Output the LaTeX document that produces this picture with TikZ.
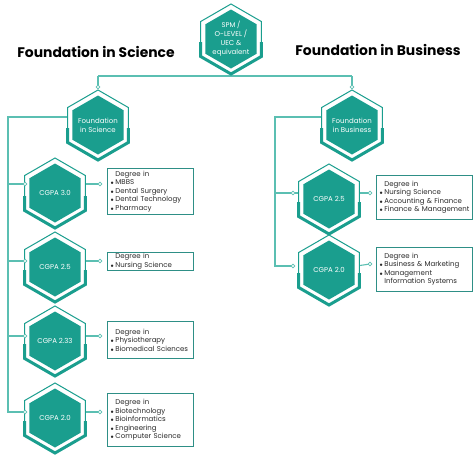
\documentclass[tikz,border=0pt]{standalone}
\usepackage{fontspec}
\setmainfont{Poppins}
\usetikzlibrary{backgrounds}
\definecolor{teal1}{HTML}{1A9E8E}
\definecolor{linec}{HTML}{5BBFB2}
\definecolor{boxc}{HTML}{2E8F86}
\definecolor{txt}{HTML}{2A2A2A}
\tikzset{
 conn/.style={draw=linec, line width=1.1pt},
 dotc/.style={circle, draw=linec, fill=white, line width=0.7pt, inner sep=0pt, minimum size=3.6pt},
 hexline/.style={draw=teal1, fill=white, line width=1pt, line join=miter},
 hexthick/.style={draw=teal1, line width=3pt, line join=miter},
 hextext/.style={circle, inner sep=0pt, minimum size=58pt, text=white, align=center, font=\fontsize{7}{9}\selectfont},
 infobox/.style={draw=boxc, line width=0.9pt, anchor=north west, inner xsep=3pt, inner ysep=1pt, align=left, font=\fontsize{7}{8.5}\selectfont, text=txt},
 titletext/.style={font=\fontsize{13.9}{15}\selectfont\bfseries, text=black}
}
\newcommand\hexa[4]{%
 \begin{scope}[shift={(#2,#3)}]
  \path[hexline] (0,-35) -- (30.31,-17.5) -- (30.31,17.5) -- (0,35) -- (-30.31,17.5) -- (-30.31,-17.5) -- cycle;
  \draw[hexthick] (30.31,3) -- (30.31,17.5) -- (0,35) -- (-30.31,17.5) -- (-30.31,3);
  \fill[teal1] (0,-29.5) -- (25.55,-14.75) -- (25.55,14.75) -- (0,29.5) -- (-25.55,14.75) -- (-25.55,-14.75) -- cycle;
 \end{scope}
 \node[hextext] (#1) at (#2,#3) {#4};}
\newcommand\bl{\makebox[5pt][l]{\fontsize{5}{5}\selectfont$\bullet$}}
\newcommand\nb{\hspace*{5pt}}
\begin{document}
\begin{tikzpicture}[x=1pt,y=-1pt]
\useasboundingbox (0,0) rectangle (474,474);

% titles
\node[titletext] (tSci) at (96,52) {Foundation in Science};
\node[titletext] (tBus) at (378,50) {Foundation in Business};

% hexagons
\hexa{top}{231}{39}{\fontsize{6.8}{8}\selectfont SPM /\\O-LEVEL /\\UEC \&\\equivalent}
\hexa{sci}{98}{125}{Foundation\\in Science}
\hexa{bus}{352}{125}{Foundation\\in Business}
\hexa{s30}{55}{193}{CGPA 3.0}
\hexa{s25}{55}{267}{CGPA 2.5}
\hexa{s233}{55}{341}{CGPA 2.33}
\hexa{s20}{55}{418}{CGPA 2.0}
\hexa{b25}{329}{199}{CGPA 2.5}
\hexa{b20}{329}{270}{CGPA 2.0}

% connection points
\coordinate (jS) at (98,76);
\coordinate (jB) at (352,76);
\coordinate (tS) at (8,117);
\coordinate (tB) at (275,117);
\node[dotc] (dS) at (98,87) {};
\node[dotc] (dB) at (352,87) {};
\node[dotc] (s30L) at (25,184) {};
\node[dotc] (s30R) at (100,184) {};
\node[dotc] (s25L) at (25,261) {};
\node[dotc] (s25R) at (100,261) {};
\node[dotc] (s233L) at (25,336) {};
\node[dotc] (s233R) at (100,336) {};
\node[dotc] (s20L) at (25,412) {};
\node[dotc] (s20R) at (100,412) {};
\node[dotc] (b25L) at (293,193) {};
\node[dotc] (b25R) at (370,193) {};
\node[dotc] (b20L) at (293,266) {};
\node[dotc] (b20R) at (370,264) {};

\begin{pgfonlayer}{background}
 \fill[white] (0,0) rectangle (474,474);
 \draw[conn] (top) -- (top |- jS);
 \draw[conn] (jS) -- (jB);
 \draw[conn] (jS) -- (dS);
 \draw[conn] (jB) -- (dB);
 \draw[conn] (tS -| sci) -- (tS) -- (tS |- s20L) -- (s20L);
 \draw[conn] (tS |- s30L) -- (s30L);
 \draw[conn] (tS |- s25L) -- (s25L);
 \draw[conn] (tS |- s233L) -- (s233L);
 \draw[conn] (s30L) -- (s30R);
 \draw[conn] (s25L) -- (s25R);
 \draw[conn] (s233L) -- (s233R);
 \draw[conn] (s20L) -- (s20R);
 \draw[conn] (tB -| bus) -- (tB) -- (tB |- b20L) -- (b20L);
 \draw[conn] (tB |- b25L) -- (b25L);
 \draw[conn] (b25L) -- (b25R);
 \draw[conn] (b20) -- (b20R);
\end{pgfonlayer}

% info boxes
\node[infobox, text width=80pt, minimum height=46pt] (i30) at (107,168)
 {\nb Degree in\\\bl MBBS\\\bl Dental Surgery\\\bl Dental Technology\\\bl Pharmacy};
\node[infobox, text width=80pt, minimum height=18pt] (i25) at (107,252)
 {\nb Degree in\\\bl Nursing Science};
\node[infobox, text width=80pt, minimum height=37pt] (i233) at (107,321)
 {\nb Degree in\\\bl Physiotherapy\\\bl Biomedical Sciences};
\node[infobox, text width=80pt, minimum height=53pt] (i20) at (107,393)
 {\nb Degree in\\\bl Biotechnology\\\bl Bioinformatics\\\bl Engineering\\\bl Computer Science};
\node[infobox, text width=90pt, minimum height=44pt] (j25) at (376,175)
 {\nb Degree in\\\bl Nursing Science\\\bl Accounting \& Finance\\\bl Finance \& Management};
\node[infobox, text width=90pt, minimum height=44pt] (j20) at (376,247)
 {\nb Degree in\\\bl Business \& Marketing\\\bl Management\\\nb Information Systems};
\end{tikzpicture}
\end{document}
